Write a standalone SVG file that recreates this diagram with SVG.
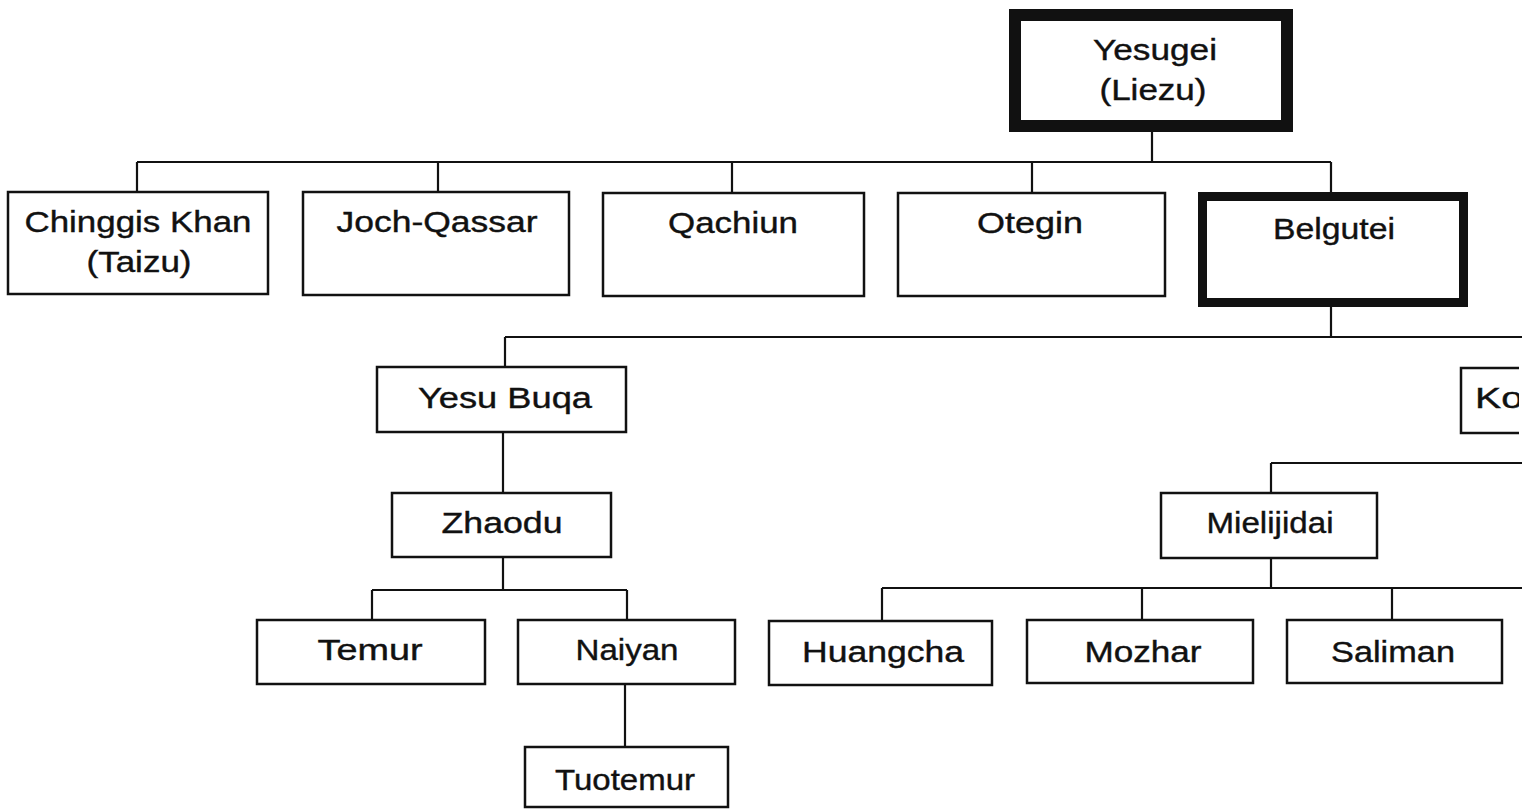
<svg xmlns="http://www.w3.org/2000/svg" width="1524" height="809" viewBox="0 0 1524 809">
<defs>
<style>
.box{fill:#fff;stroke:#111;stroke-width:2.5}
.thick{fill:#fff;stroke:#111}
.lbl{font-family:"Liberation Sans",Arial,sans-serif;font-size:30px;fill:#111;stroke:#111;stroke-width:0.4;text-anchor:middle}
.conn{fill:none;stroke:#111;stroke-width:2.2}
</style>
<clipPath id="frame"><rect x="0" y="0" width="1519" height="809"/></clipPath>
</defs>
<rect x="0" y="0" width="1524" height="809" fill="#fff"/>
<g id="connectors" class="conn">
<path d="M1152 132V162M137 162H1331M137 162V192M438 162V192M732 162V193M1032 162V193M1331 162V192"/>
<path d="M1331 307V337M505 337H1522M505 337V367"/>
<path d="M503 432V493M503 557V590M372 590H627M372 590V620M627 590V620M625 684V747"/>
<path d="M1271 463H1522M1271 463V493M1271 558V588M882 588H1522M882 588V621M1142 588V620M1392 588V620"/>
</g>
<g id="yesugei"><rect class="thick" stroke-width="12" x="1015" y="15" width="272" height="111"/><text class="lbl" x="1155" y="60" textLength="124" lengthAdjust="spacingAndGlyphs">Yesugei</text><text class="lbl" x="1153" y="100" textLength="107" lengthAdjust="spacingAndGlyphs">(Liezu)</text></g>
<g id="chinggis"><rect class="box" x="8" y="192" width="260" height="102"/><text class="lbl" x="138" y="232" textLength="227" lengthAdjust="spacingAndGlyphs">Chinggis Khan</text><text class="lbl" x="139" y="272" textLength="105" lengthAdjust="spacingAndGlyphs">(Taizu)</text></g>
<g id="joch"><rect class="box" x="303" y="192" width="266" height="103"/><text class="lbl" x="437" y="232" textLength="201" lengthAdjust="spacingAndGlyphs">Joch-Qassar</text></g>
<g id="qachiun"><rect class="box" x="603" y="193" width="261" height="103"/><text class="lbl" x="733" y="233" textLength="130" lengthAdjust="spacingAndGlyphs">Qachiun</text></g>
<g id="otegin"><rect class="box" x="898" y="193" width="267" height="103"/><text class="lbl" x="1030" y="233" textLength="106" lengthAdjust="spacingAndGlyphs">Otegin</text></g>
<g id="belgutei"><rect class="thick" stroke-width="9" x="1202.5" y="196.5" width="261" height="106"/><text class="lbl" x="1334" y="239" textLength="122" lengthAdjust="spacingAndGlyphs">Belgutei</text></g>
<g id="yesubuqa"><rect class="box" x="377" y="367" width="249" height="65"/><text class="lbl" x="505" y="408" textLength="174" lengthAdjust="spacingAndGlyphs">Yesu Buqa</text></g>
<g id="ko" clip-path="url(#frame)"><rect class="box" x="1461" y="368" width="80" height="65"/><text class="lbl" x="1475" y="408" style="text-anchor:start" textLength="48" lengthAdjust="spacingAndGlyphs">Ko</text></g>
<g id="zhaodu"><rect class="box" x="392" y="493" width="219" height="64"/><text class="lbl" x="502" y="533" textLength="121" lengthAdjust="spacingAndGlyphs">Zhaodu</text></g>
<g id="mielijidai"><rect class="box" x="1161" y="493" width="216" height="65"/><text class="lbl" x="1270" y="533" textLength="127" lengthAdjust="spacingAndGlyphs">Mielijidai</text></g>
<g id="temur"><rect class="box" x="257" y="620" width="228" height="64"/><text class="lbl" x="370" y="660" textLength="105" lengthAdjust="spacingAndGlyphs">Temur</text></g>
<g id="naiyan"><rect class="box" x="518" y="620" width="217" height="64"/><text class="lbl" x="627" y="660" textLength="103" lengthAdjust="spacingAndGlyphs">Naiyan</text></g>
<g id="tuotemur"><rect class="box" x="525" y="747" width="203" height="60"/><text class="lbl" x="625" y="790" textLength="140" lengthAdjust="spacingAndGlyphs">Tuotemur</text></g>
<g id="huangcha"><rect class="box" x="769" y="621" width="223" height="64"/><text class="lbl" x="883" y="662" textLength="162" lengthAdjust="spacingAndGlyphs">Huangcha</text></g>
<g id="mozhar"><rect class="box" x="1027" y="620" width="226" height="63"/><text class="lbl" x="1143" y="662" textLength="117" lengthAdjust="spacingAndGlyphs">Mozhar</text></g>
<g id="saliman"><rect class="box" x="1287" y="620" width="215" height="63"/><text class="lbl" x="1393" y="662" textLength="124" lengthAdjust="spacingAndGlyphs">Saliman</text></g>
</svg>
